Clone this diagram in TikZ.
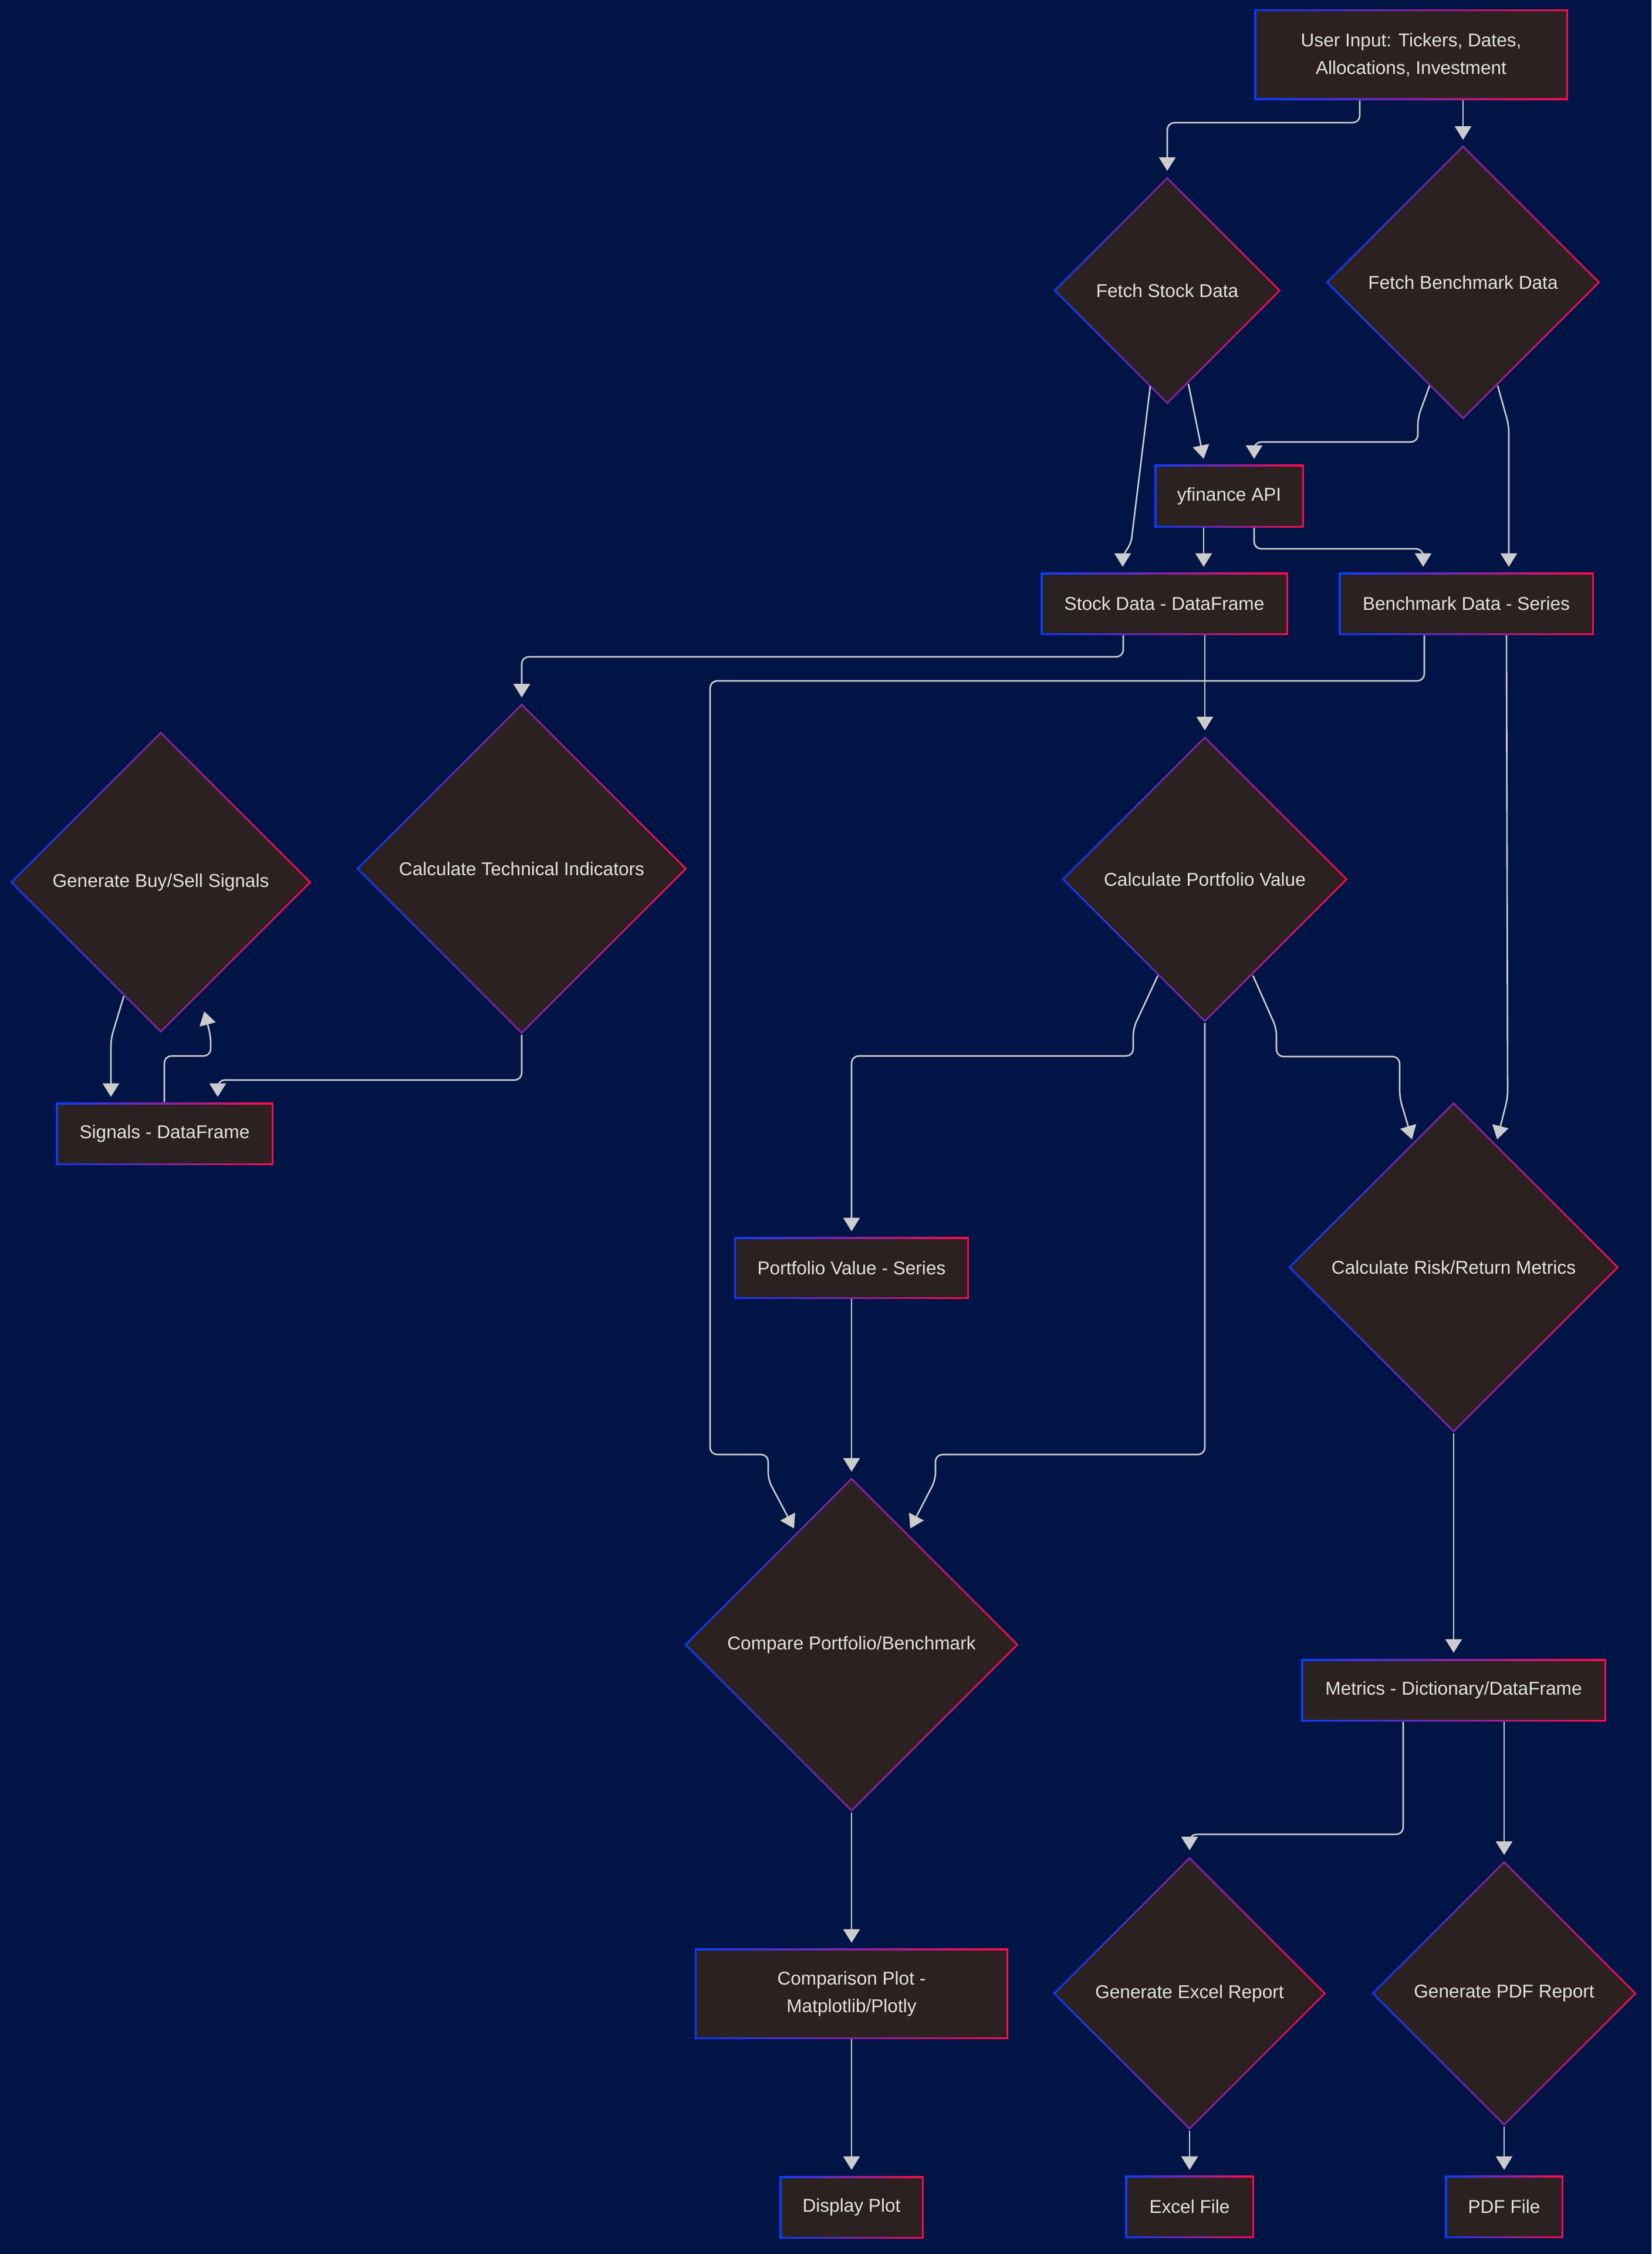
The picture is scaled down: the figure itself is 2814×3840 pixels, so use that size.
\documentclass[tikz,border=0pt]{standalone}
\usepackage{fontspec}
\setmainfont{Liberation Sans}
\usetikzlibrary{arrows.meta,calc,shapes.geometric}
\definecolor{bg}{HTML}{001446}
\definecolor{nfill}{HTML}{2B2121}
\definecolor{bblue}{HTML}{0A3CFF}
\definecolor{bred}{HTML}{FF0A46}
\definecolor{txtc}{HTML}{E2E2E2}
\definecolor{linec}{HTML}{CCCCCC}
\tikzset{
  txt/.style={text=txtc, font=\fontsize{7.9}{11.75}\selectfont, align=center},
  box/.style 2 args={rectangle, inner sep=0pt, left color=bblue, right color=bred,
    minimum width=(#1+3)*0.25pt, minimum height=(#2+3)*0.25pt, txt,
    path picture={\fill[nfill] ([xshift=0.75pt,yshift=-0.75pt]path picture bounding box.north west)
      rectangle ([xshift=-0.75pt,yshift=0.75pt]path picture bounding box.south east);}},
  dia/.style={diamond, inner sep=0pt, left color=bblue, right color=bred,
    minimum width=(2*#1+4)*0.25pt, minimum height=(2*#1+4)*0.25pt,
    path picture={\fill[nfill] ([xshift=1.06pt]path picture bounding box.west)
      -- ([yshift=-1.06pt]path picture bounding box.north)
      -- ([xshift=-1.06pt]path picture bounding box.east)
      -- ([yshift=1.06pt]path picture bounding box.south) -- cycle;}},
  conn/.style={draw=linec, line width=0.65pt, rounded corners=3pt,
    -{Triangle[length=5.75pt,width=7pt]}},
}
\begin{document}
\begin{tikzpicture}[x=0.25pt,y=-0.25pt]
\useasboundingbox (0,0) rectangle (2814,3840);
\fill[bg] (0,0) rectangle (2814,3840);

% rectangles
\node[box={531}{151}] (A) at (2404.5,93.5) {User Input: Tickers, Dates,\\Allocations, Investment};
\node[box={251}{104}] (D) at (2094.5,845) {yfinance API};
\node[box={418}{103}] (E) at (1984,1028.5) {Stock Data - DataFrame};
\node[box={431}{103}] (F) at (2498.5,1028.5) {Benchmark Data - Series};
\node[box={367}{103}] (I) at (280.5,1931.5) {Signals - DataFrame};
\node[box={397}{102}] (K) at (1451,2160) {Portfolio Value - Series};
\node[box={516}{103}] (N) at (2477,2879.5) {Metrics - Dictionary/DataFrame};
\node[box={531}{151}] (O) at (1451,3396.5) {Comparison Plot -\\Matplotlib/Plotly};
\node[box={242}{103}] (P) at (1451,3760.5) {Display Plot};
\node[box={216}{103}] (S) at (2027,3759.5) {Excel File};
\node[box={198}{103}] (T) at (2563,3759.5) {PDF File};

% diamonds
\node[dia=192, label={[txt]center:Fetch Stock Data}] (B) at (1989,495) {};
\node[dia=232, label={[txt]center:Fetch Benchmark Data}] (C) at (2493,481) {};
\node[dia=280, label={[txt]center:Calculate Technical Indicators}] (G) at (889,1480) {};
\node[dia=255, label={[txt]center:Generate Buy/Sell Signals}] (H) at (274,1503) {};
\node[dia=242, label={[txt]center:Calculate Portfolio Value}] (J) at (2053,1498) {};
\node[dia=280, label={[txt]center:Calculate Risk/Return Metrics}] (L) at (2477,2159) {};
\node[dia=283, label={[txt]center:Compare Portfolio/Benchmark}] (M) at (1451,2802) {};
\node[dia=231, label={[txt]center:Generate Excel Report}] (Q) at (2027,3396) {};
\node[dia=224, label={[txt]center:Generate PDF Report}] (R) at (2563,3396) {};

% connectors
\draw[conn] ($(A.south)+(-87.5,0)$) -- (2317,209) -- (1989,209) -- ($(B.north)+(0,-9)$);
\draw[conn] ($(A.south)+(88.5,0)$) -- ($(C.north)+(0,-8)$);
\draw[conn] ($(B.center)+(-29,163)$) -- (1927,928) -- (1913,945) -- ($(E.north)+(-71,-9)$);
\draw[conn] ($(B.center)+(36,159)$) -- ($(D.north)+(-43.5,-9)$);
\draw[conn] ($(C.center)+(-57,176)$) -- (2416,712) -- (2416,753) -- (2137,753) -- ($(D.north)+(42.5,-9)$);
\draw[conn] ($(C.center)+(59,176)$) -- (2571,725) -- ($(F.north)+(72.5,-9)$);
\draw[conn] ($(D.south)+(-43.5,0)$) -- ($(E.north)+(67,-9)$);
\draw[conn] ($(D.south)+(42.5,0)$) -- (2137,935) -- (2425,935) -- ($(F.north)+(-73.5,-9)$);
\draw[conn] ($(E.south)+(-70,0)$) -- (1914,1119) -- (889,1119) -- ($(G.north)+(0,-9)$);
\draw[conn] ($(E.south)+(69,0)$) -- ($(J.north)+(0,-9)$);
\draw[conn] ($(F.south)+(-71.5,0)$) -- (2427,1160) -- (1210,1160) -- (1210,2478) -- (1309,2478) -- (1309,2521) -- ($(M.center)+(-98,-198)$);
\draw[conn] ($(F.south)+(68.5,0)$) -- (2569,1870) -- ($(L.center)+(74,-218)$);
\draw[conn] (G.south) -- (889,1840) -- (371,1840) -- ($(I.north)+(90.5,-9)$);
\draw[conn] ($(H.center)+(-63,194)$) -- (189,1770) -- ($(I.north)+(-91.5,-9)$);
\draw[conn] ($(I.north)+(-0.5,0)$) -- (280,1799) -- (359,1799) -- (359,1765) -- ($(H.center)+(74,220)$);
\draw[conn] ($(J.center)+(-80,164)$) -- (1931,1752) -- (1931,1799) -- (1451,1799) -- ($(K.north)+(0,-9)$);
\draw[conn] (J.south) -- (2053,2478) -- (1594,2478) -- (1594,2521) -- ($(M.center)+(100,-198)$);
\draw[conn] ($(J.center)+(82,164)$) -- (2175,1752) -- (2175,1800) -- (2385,1800) -- (2385,1870) -- ($(L.center)+(-71,-218)$);
\draw[conn] (K.south) -- ($(M.north)+(0,-9)$);
\draw[conn] (L.south) -- ($(N.north)+(0,-10)$);
\draw[conn] ($(N.south)+(-86,0)$) -- (2391,3125) -- (2027,3125) -- ($(Q.north)+(0,-10)$);
\draw[conn] ($(N.south)+(86,0)$) -- ($(R.north)+(0,-9)$);
\draw[conn] (M.south) -- ($(O.north)+(0,-9)$);
\draw[conn] (O.south) -- ($(P.north)+(0,-10)$);
\draw[conn] (Q.south) -- ($(S.north)+(0,-9)$);
\draw[conn] (R.south) -- ($(T.north)+(0,-9)$);
\end{tikzpicture}
\end{document}
